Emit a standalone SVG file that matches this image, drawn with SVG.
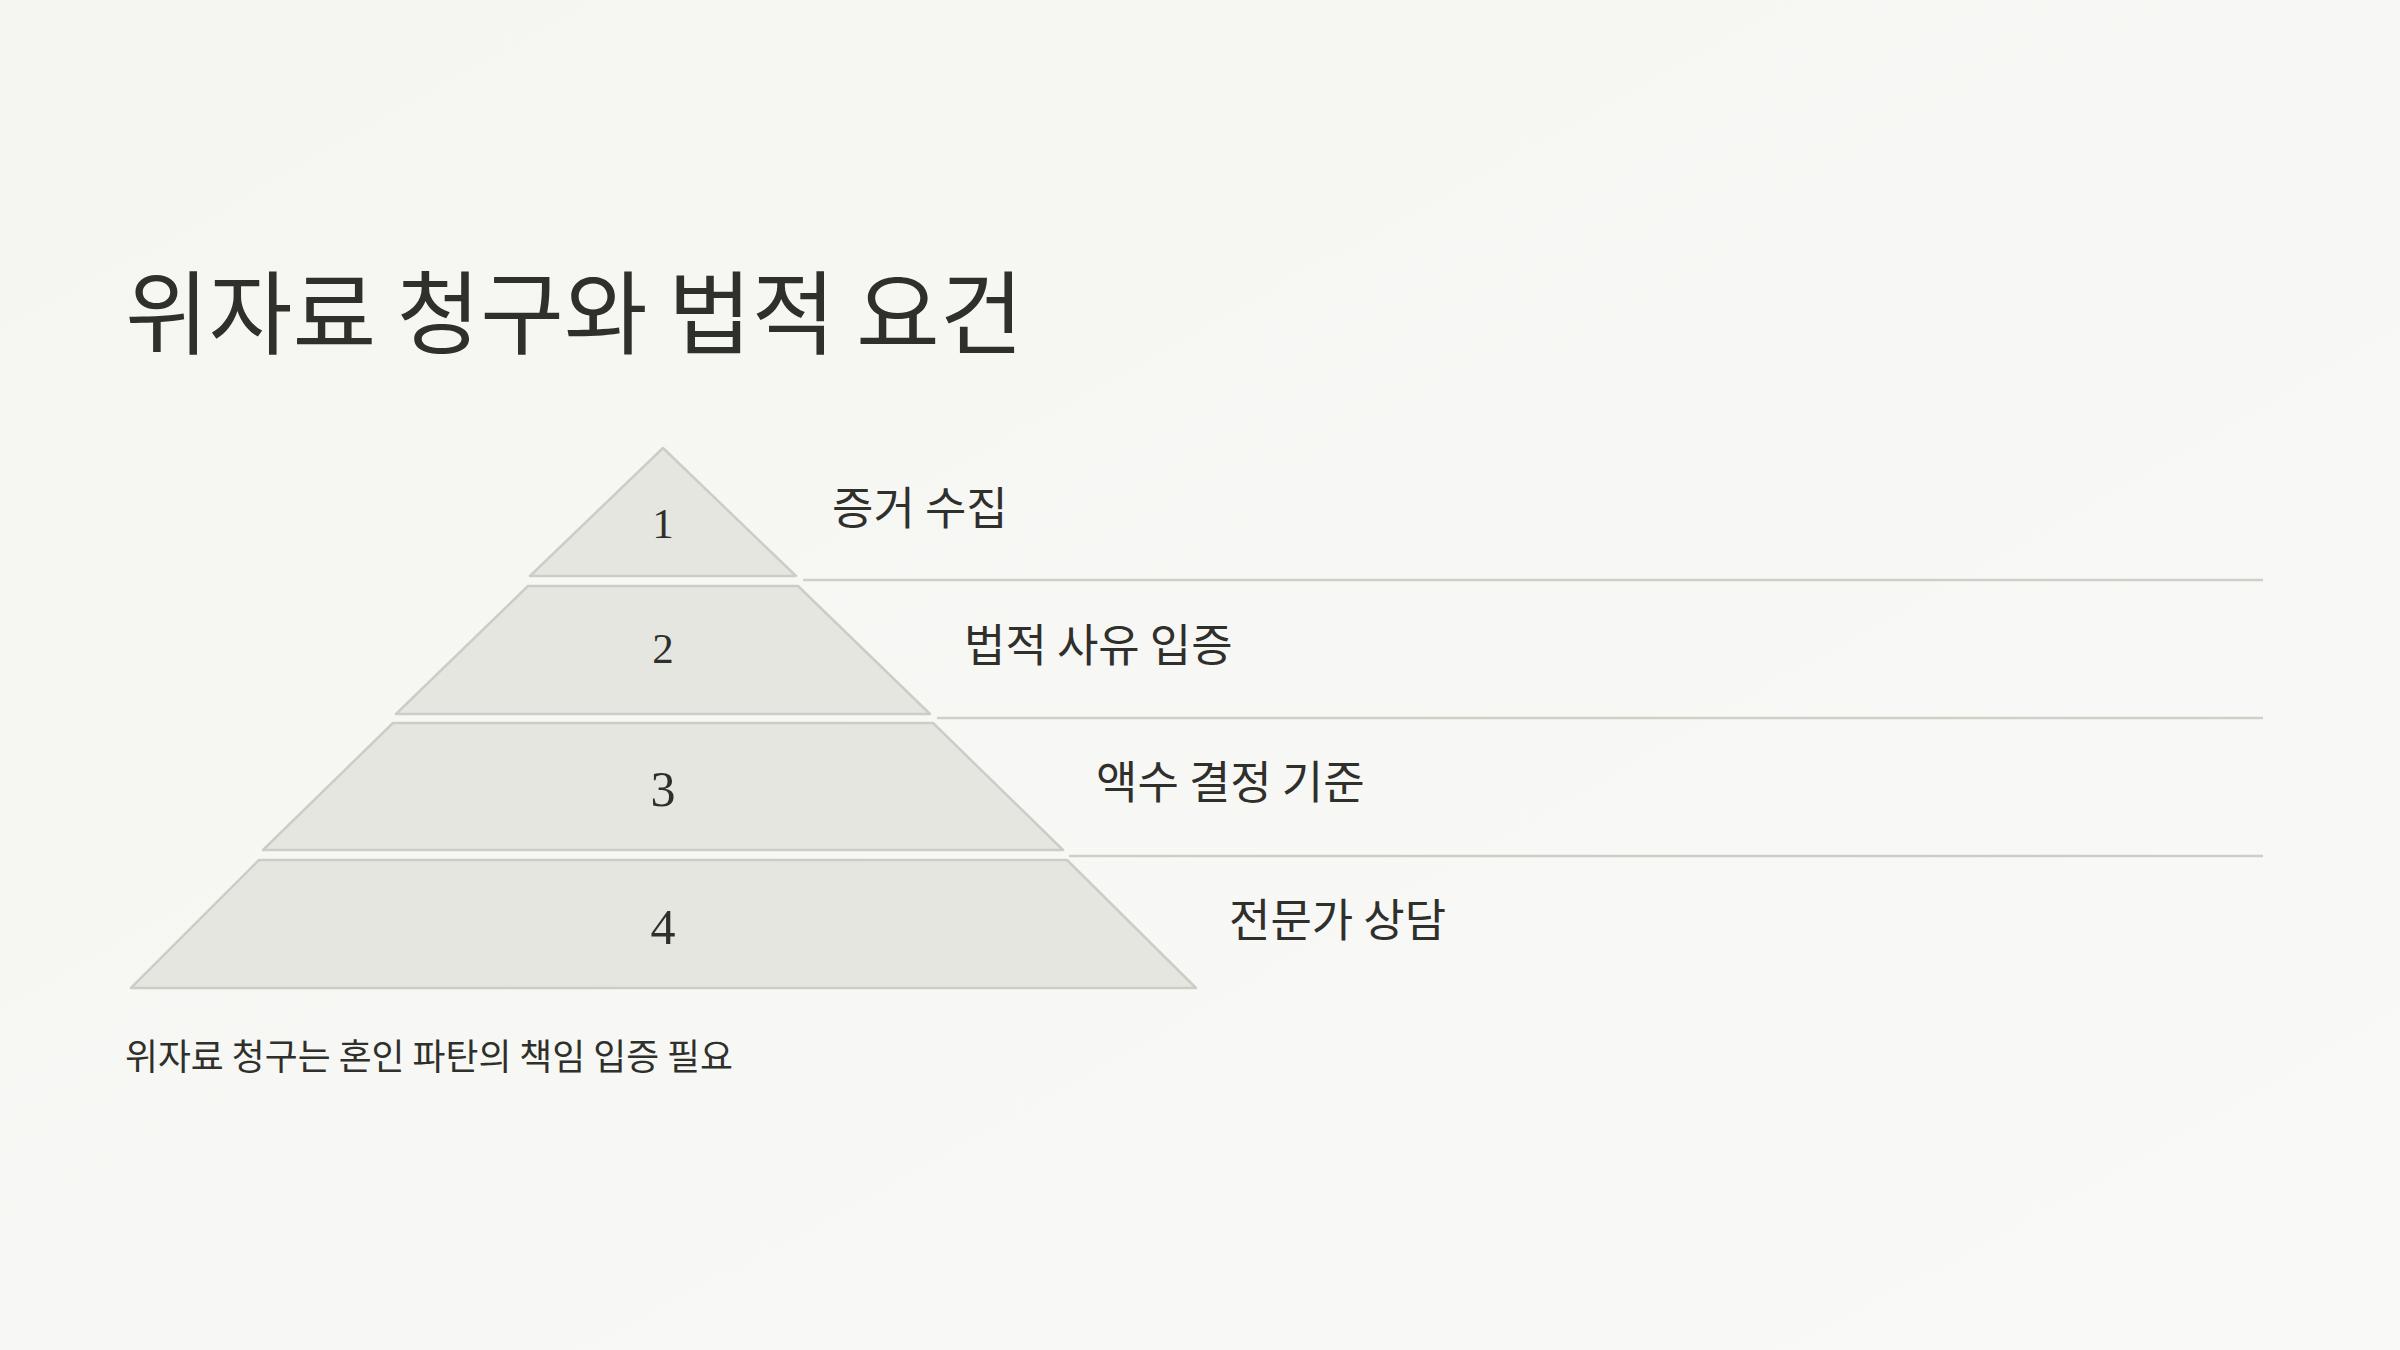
<svg xmlns="http://www.w3.org/2000/svg" width="2400" height="1350" viewBox="0 0 2400 1350">
<defs>
<linearGradient id="bg" x1="0" y1="0" x2="1" y2="1">
<stop offset="0" stop-color="#f5f5f2"/>
<stop offset="1" stop-color="#f9f9f7"/>
</linearGradient>
<style>
.lvl{fill:#e6e6e1;stroke:#cdcdc6;stroke-width:2.5;stroke-linejoin:round}
.num{font-family:"Liberation Serif","DejaVu Serif",serif;font-size:43px;fill:#2f2f2b;text-anchor:middle}
.big{font-size:50px}
.lab{font-family:"Noto Sans CJK KR","Noto Sans",sans-serif;font-size:45px;fill:#2f2f2b}
.div{stroke:#cfcfc7;stroke-width:2.5;fill:none}
</style>
</defs>
<rect width="2400" height="1350" fill="url(#bg)"/>
<text x="125" y="347" font-family="'Noto Sans CJK KR','Noto Sans',sans-serif" font-size="91" fill="#2f2f2b">위자료 청구와 법적 요건</text>
<g id="connectors">
<line class="div" x1="803" y1="580" x2="2263" y2="580"/>
<line class="div" x1="937" y1="718" x2="2263" y2="718"/>
<line class="div" x1="1069" y1="856" x2="2263" y2="856"/>
</g>
<g id="level1">
<polygon class="lvl" points="663,448 796,576 530,576"/>
<text class="num" x="663" y="538">1</text>
<text class="lab" x="832" y="525">증거 수집</text>
</g>
<g id="level2">
<polygon class="lvl" points="528,586 798,586 930,714 396,714"/>
<text class="num" x="663" y="663">2</text>
<text class="lab" x="964" y="662">법적 사유 입증</text>
</g>
<g id="level3">
<polygon class="lvl" points="393,723 933,723 1063,850 263,850"/>
<text class="num big" x="663" y="806">3</text>
<text class="lab" x="1096" y="799">액수 결정 기준</text>
</g>
<g id="level4">
<polygon class="lvl" points="259,860 1067,860 1196,988 131,988"/>
<text class="num big" x="663" y="944">4</text>
<text class="lab" x="1229" y="937">전문가 상담</text>
</g>
<text x="125" y="1070" font-family="'Noto Sans CJK KR','Noto Sans',sans-serif" font-size="35.8" fill="#2f2f2b">위자료 청구는 혼인 파탄의 책임 입증 필요</text>
</svg>
